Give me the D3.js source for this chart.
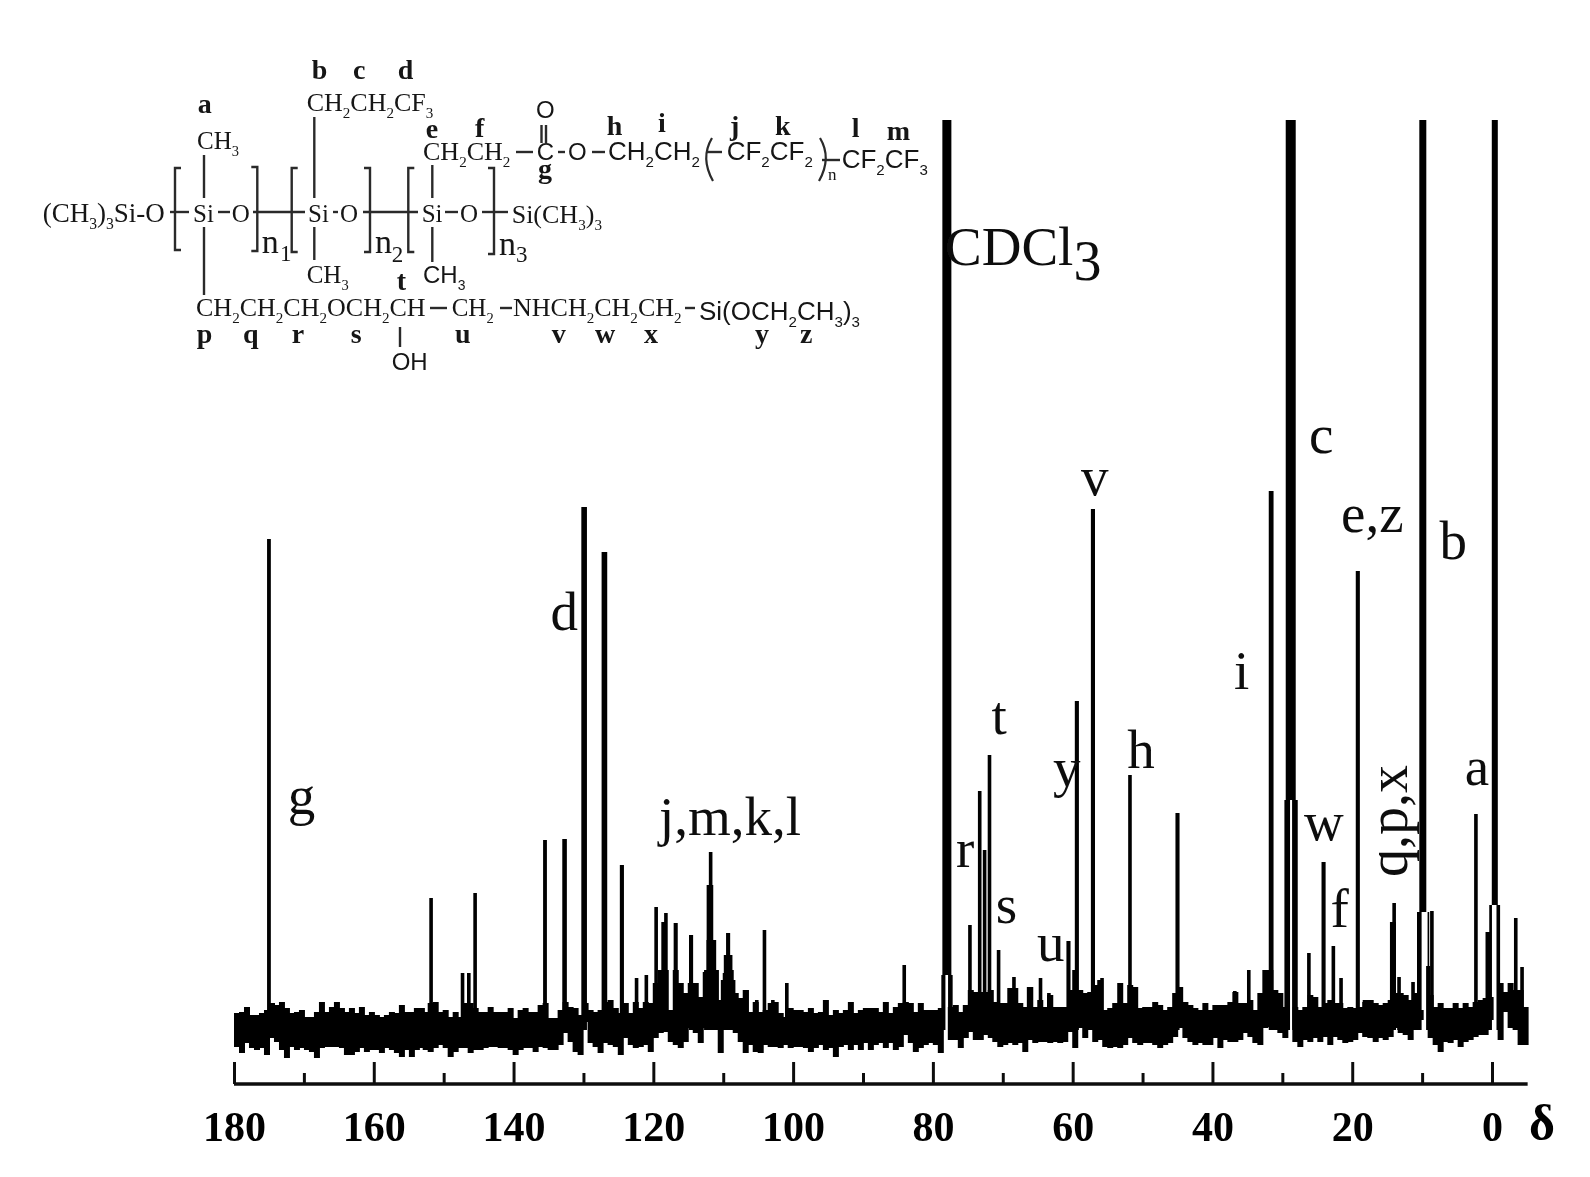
<!DOCTYPE html>
<html><head><meta charset="utf-8">
<script src="https://cdn.jsdelivr.net/npm/d3@7"></script>
<style>html,body{margin:0;padding:0;background:#fff}svg{display:block}</style>
</head><body><svg id="c" width="1590" height="1177"></svg>
<script>
// ---- axis ----
const majorTicks = [180,160,140,120,100,80,60,40,20,0];
const minorTicks = [170,150,130,110,90,70,50,30,10];
// ---- sharp peaks: chemical shift (ppm), height (a.u.), line width (ppm) ----
const peakShifts = [175.0,151.8,147.3,146.4,145.5,135.5,132.7,129.9,127.0,124.5,122.4,121.0,119.6,118.6,118.2,116.8,114.6,111.8,111.9,111.7,111.7,109.3,109.3,109.3,106.6,105.2,104.1,102.9,100.9,84.1,78.5,77.5,74.7,73.3,72.6,71.9,70.6,68.4,66.3,64.6,63.4,60.6,59.4,57.1,55.8,53.2,51.8,51.1,45.0,36.8,34.8,31.6,29.3,28.2,26.2,24.1,22.7,21.6,19.2,14.0,14.2,13.3,11.3,10.4,9.1,9.1,8.6,2.3,0.6,0.2,-0.9,-3.4,-4.3];
const peakHeights = [491,132,57,57,137,190,191,523,478,165,52,55,123,108,117,107,95,178,145,90,60,97,75,50,40,30,100,30,47,65,55,55,105,239,180,275,80,53,43,52,37,89,329,521,52,47,255,43,217,39,60,539,230,230,77,168,84,52,459,127,108,53,48,118,64,118,119,216,98,125,125,112,63];
const peakWidths = [.46,.43,.43,.43,.43,.46,.57,.72,.72,.5,.43,.43,.43,.43,.43,.5,.5,.43,.86,1.3,2.0,.5,1.15,2.0,.43,.43,.43,.43,.43,.43,.5,.57,.43,.43,.43,.43,.43,.43,.43,.43,.43,.5,.5,.5,.43,.43,.43,.43,.5,.43,.43,.6,.72,.72,.43,.5,.43,.43,.5,.43,.72,.43,.43,.57,.57,.15,.43,.43,.57,.3,.43,.43,.43];
// ---- off-scale peaks (CDCl3, c, b, TMS): they merge into a solid bar above a floor ----
const tallShifts = [78.0,28.8,9.9,-0.4];
const tallHeights = [910,910,910,910];
const tallWidths = [1.29,1.43,1.0,.86];
const tallFloors = [55,230,118,125];
// ---- baseline noise band (a.u.) ----
const bandStarts = [180,153,125.8,98.6,71.5,44.3,18.5];
const bandUpper = [
 [17,18,23,15,15,17,20,27,25,28,22,17,18,20,13,13,18,28,18,23,28,22,18,22,17,23,15,18,15,13,15,18,17,25,18,18,22,22],
 [18,27,28,18,20,13,18,13,27,27,22,18,18,23,18,18,18,22,12,20,22,18,18,25,27,12,12,20,28,23,22,15,27,20,18,20,28,30],
 [22,17,27,17,28,22,28,27,47,60,60,20,60,47,37,47,47,33,58,60,60,30,57,60,37,32,40,18,28,18,20,27,28,17,13,22,20,20],
 [18,22,17,18,30,15,20,17,20,28,17,20,22,22,22,18,28,17,23,27,28,27,18,27,20,20,20,22,5,23,25,18,25,40,38,38,38,40],
 [28,27,27,42,42,27,23,43,23,30,23,35,23,23,23,40,60,40,37,38,45,50,20,22,27,47,27,45,43,22,23,23,28,25,20,23,37,43],
 [28,25,22,20,27,20,25,25,25,28,38,27,27,30,20,37,60,60,40,37,23,0,23,20,23,35,33,23,27,30,27,27,22,23,22,23,28,23],
 [30,30,27,25,27,30,37,37,35,30,37,20,0,35,23,27,22,22,27,22,27,23,28,30,32,33,0,47,38,47,40,40,23]
];
const bandLower = [
 [-17,-23,-13,-18,-20,-18,-25,-8,-12,-20,-28,-17,-20,-18,-20,-22,-28,-18,-17,-17,-17,-18,-25,-25,-22,-18,-22,-20,-20,-23,-18,-20,-23,-27,-20,-27,-20,-18],
 [-20,-22,-18,-15,-18,-27,-22,-18,-18,-23,-20,-20,-18,-17,-17,-18,-18,-20,-25,-20,-18,-18,-22,-17,-18,-20,-20,-15,-3,-12,-22,-25,8,-13,-17,-23,-13,-15],
 [-17,-25,-8,-15,-18,-17,-15,-22,-8,-3,-2,-12,-15,-18,-12,2,-3,-13,2,28,10,-23,7,10,-3,-12,-23,-15,-22,-23,-15,-17,-17,-18,-15,-18,-17,-17],
 [-18,-22,-18,-15,-20,-18,-27,-17,-15,-20,-15,-20,-13,-20,-15,-13,-18,-13,-20,-17,-5,-13,-22,-18,-15,-13,-15,-23,5,-10,-10,-18,-8,-2,-10,-10,-5,-8],
 [-12,-17,-15,-13,-15,-13,-22,-10,-13,-12,-12,-13,-12,-13,-12,-2,-18,2,-8,0,-12,-10,-17,-18,-17,-18,-15,-8,-13,-15,-13,-13,-15,-18,-15,-13,-7,2],
 [-8,-12,-15,-13,-15,-15,-8,-18,-10,-12,-12,-10,-3,-7,-13,-15,2,3,0,-3,-8,0,-12,-17,-10,-12,-8,-12,-7,-15,-7,-10,-13,-12,-10,-3,-7,-8],
 [-7,-7,-12,-8,-10,-7,2,-3,-5,-10,0,10,0,-8,-15,-22,-12,-13,-10,-17,-12,-10,-7,-5,-5,10,0,-10,18,2,0,-15,-15]
];
const bandStep = 0.715;
// ---- assignments on the spectrum ----
const labelTexts = ["g","d","v","c","e,z","b","i","t","h","y","a","w","f","r","s","u","j,m,k,l"];
const labelShifts = [172.3,134.7,58.8,26.2,21.6,7.5,36.9,71.6,52.2,62.8,3.9,26.9,23.1,76.7,71,65.1,119.2];
const labelHeights = [216,400,535,577,498,471,341,296,262,244,245,190,103,163,107,69,195];

const svg = d3.select("#c");
const defs = svg.append("defs");
defs.append("filter").attr("id","soft").attr("x","-2%").attr("y","-2%").attr("width","104%").attr("height","104%")
  .append("feGaussianBlur").attr("stdDeviation",0.55);
const root = svg.append("g").attr("filter","url(#soft)");
root.append("rect").attr("width",1590).attr("height",1177).attr("fill","#fff");

const x = d3.scaleLinear().domain([180,0]).range([234,1492]);
const y = d3.scaleLinear().domain([0,910]).range([1030,120]);
const serif = "'Liberation Serif','Times New Roman',serif";
const sans = "'Liberation Sans',Arial,sans-serif";
const ink = "#000";
const stroke = w => x(0)-x(w)+0.6;

// noise band
const band = root.append("g").attr("fill",ink);
bandStarts.forEach((s,i)=>{
  band.selectAll(null).data(bandUpper[i]).join("rect")
    .attr("x",(d,k)=>x(s-k*bandStep))
    .attr("width",(d,k)=> bandUpper[i][k]===0 ? 0 : x(0)-x(bandStep)+1)
    .attr("y",d=>y(d))
    .attr("height",(d,k)=>Math.max(0,y(bandLower[i][k])-y(d)));
});
// peaks
root.append("g").attr("fill",ink).selectAll("rect").data(peakShifts).join("rect")
  .attr("x",(d,i)=>x(d)-stroke(peakWidths[i])/2)
  .attr("width",(d,i)=>stroke(peakWidths[i]))
  .attr("y",(d,i)=>y(peakHeights[i]))
  .attr("height",(d,i)=>y(0)-y(peakHeights[i]));
root.append("g").attr("fill",ink).selectAll("rect").data(tallShifts).join("rect")
  .attr("x",(d,i)=>x(d)-(x(0)-x(tallWidths[i]))/2)
  .attr("width",(d,i)=>x(0)-x(tallWidths[i]))
  .attr("y",(d,i)=>y(tallHeights[i]))
  .attr("height",(d,i)=>y(tallFloors[i])-y(tallHeights[i]));

// axis
const axisY = 1084;
const major = d3.axisBottom(x).tickValues(majorTicks).tickSize(-22).tickSizeOuter(0).tickPadding(27);
const gMajor = root.append("g").attr("transform",`translate(0,${axisY})`).call(major);
gMajor.select(".domain").attr("d",`M234,0H${x(-5.1)}`).attr("stroke","#111").attr("stroke-width",3.6);
gMajor.selectAll(".tick line").attr("stroke","#111").attr("stroke-width",3);
gMajor.selectAll(".tick text").attr("fill","#000").attr("font-family",serif).attr("font-weight","bold").attr("font-size",42);
const gMinor = root.append("g").attr("transform",`translate(0,${axisY})`)
  .call(d3.axisBottom(x).tickValues(minorTicks).tickSize(-11).tickSizeOuter(0).tickFormat(""));
gMinor.select(".domain").remove();
gMinor.selectAll(".tick line").attr("stroke","#111").attr("stroke-width",3);
root.append("text").text("δ").attr("x",1529).attr("y",1140).attr("font-family",serif).attr("font-weight","bold").attr("font-size",50).attr("fill",ink);

// assignment labels
root.append("g").selectAll("text").data(labelTexts).join("text")
  .text(d=>d)
  .attr("x",(d,i)=>x(labelShifts[i]))
  .attr("y",(d,i)=>y(labelHeights[i]))
  .attr("font-family",serif).attr("font-size",55).attr("fill","#111");
root.append("text").text("q,p,x").attr("transform","translate(1407,877) rotate(-90)")
  .attr("font-family",serif).attr("font-size",56).attr("fill","#111");
const cd = root.append("text").attr("x",945).attr("y",265).attr("font-family",serif).attr("font-size",55).attr("fill","#111");
cd.append("tspan").text("CDCl");
cd.append("tspan").text("3").attr("dy",15).attr("font-size",56);

// chemical structure
const chemG = root.append("g").attr("fill","#151515");
function chem(str,px,py,size,fam){
  const t = chemG.append("text").attr("x",px).attr("y",py).attr("font-family",fam||serif).attr("font-size",size);
  const parts = str.split(/_(\d)/);
  let off = 0;
  parts.forEach((p,i)=>{
    if(!p) return;
    if(i%2){ t.append("tspan").text(p).attr("font-size",size*0.58).attr("dy",size*0.28); off=size*0.28; }
    else { const s=t.append("tspan").text(p); if(off){s.attr("dy",-off); off=0;} }
  });
}
function tag(str,px,py){
  chemG.append("text").text(str).attr("x",px).attr("y",py).attr("font-family",serif)
    .attr("font-weight","bold").attr("font-size",28);
}
const serifFormulae = [
 ["CH_2CH_2CF_3",306.7,111,26],["CH_3",197,149,25],["(CH_3)_3Si-O",42.7,221.7,27],["Si",193,221.7,25],["O",231.7,221.7,25],
 ["Si",308,221.7,25],["O",340,221.7,25],["Si",421.7,221.7,25],["O",460,221.7,25],["Si(CH_3)_3",511.7,223,26],
 ["CH_3",306.7,283,25],["CH_2CH_2",423,160,26],["CH_2CH_2CH_2OCH_2CH",196,316,26],["CH_2",451.7,316,25],["NHCH_2CH_2CH_2",513,316,26]
];
serifFormulae.forEach(f=>chem(f[0],f[1],f[2],f[3]));
const sansFormulae = [
 ["CH_3",423,283,24],["OH",391.7,370,24],["Si(OCH_2CH_3)_3",699,320,26],["O",536,118,24],["C",536.7,160,24],
 ["O",568,160,24],["CH_2CH_2",608,160,26],["CF_2CF_2",726.7,160,26],["CF_2CF_3",841.7,168,26]
];
sansFormulae.forEach(f=>chem(f[0],f[1],f[2],f[3],sans));
chem("n",828,180,17);
[["n",261.7,253,"1",280,261],["n",375,253,"2",391.7,262],["n",499,255,"3",516,262]].forEach(a=>{
  chemG.append("text").text(a[0]).attr("x",a[1]).attr("y",a[2]).attr("font-family",serif).attr("font-size",34);
  chemG.append("text").text(a[3]).attr("x",a[4]).attr("y",a[5]).attr("font-family",serif).attr("font-size",23);
});
[["b",311.7,79],["c",353,79],["d",397.7,79],["a",197.7,113],["e",425.7,138],["f",475,136.7],["g",538,178],
 ["h",606.7,135],["i",658,132],["j",730,135],["k",775,135],["l",851.7,136.7],["m",886.7,140],
 ["t",396.7,290],["p",196.7,343],["q",243,343],["r",291.7,343],["s",350.7,343],["u",455,343],
 ["v",551.7,343],["w",595,343],["x",644,343],["y",755,343],["z",800,343]].forEach(a=>tag(a[0],a[1],a[2]));
const bonds = [
 [170,212,189,212],[218,212,230,212],[253,212,305,212],[333,212,338,212],[363,212,418,212],[445,212,458,212],[482,212,508,212],
 [204,155,204,198],[204,227,204,295],[314.3,117,314.3,198],[314.3,227,314.3,260],[432.3,165,432.3,198],[432.3,227,432.3,262],
 [430,308,447,308],[500,308,512,308],[685,308,695,308],[400,327,400,347],
 [516,152,533,152],[541.5,125,541.5,143],[546,125,546,143],[558,152,565,152],[592,152,605,152],[706,152,722,152],[822,160,840,160]
];
chemG.append("g").attr("stroke","#2a2a2a").attr("stroke-width",2.4).selectAll("line").data(bonds).join("line")
  .attr("x1",d=>d[0]).attr("y1",d=>d[1]).attr("x2",d=>d[2]).attr("y2",d=>d[3]);
const brackets = [[175,168,250,1],[257.3,167,251,-1],[291.7,168,252,1],[370,168,252,-1],[408.3,168,252,1],[494,168,254,-1]];
chemG.append("g").attr("fill","none").attr("stroke","#2a2a2a").attr("stroke-width",2.4).selectAll("path").data(brackets).join("path")
  .attr("d",d=>`M${d[0]+d[3]*6},${d[1]}H${d[0]}V${d[2]}H${d[0]+d[3]*6}`);
chemG.append("path").attr("fill","none").attr("stroke","#2a2a2a").attr("stroke-width",2.2).attr("d","M712,138Q700,158 713,181");
chemG.append("path").attr("fill","none").attr("stroke","#2a2a2a").attr("stroke-width",2.2).attr("d","M820,138Q832,158 819,181");
</script></body></html>
